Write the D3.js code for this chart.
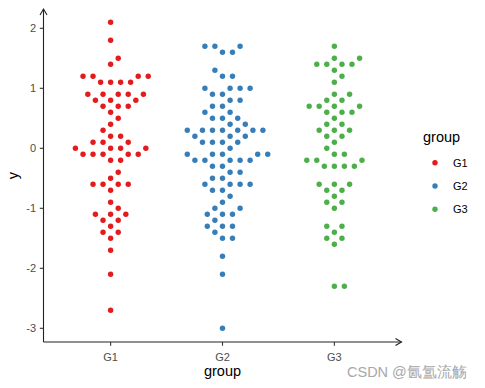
<!DOCTYPE html>
<html>
<head>
<meta charset="UTF-8">
<title>beeswarm</title>
<style>
  body { margin: 0; background: #fff; }
  svg { display: block; }
  text { font-family: "Liberation Sans", Arial, sans-serif; }
</style>
</head>
<body>
<svg width="485" height="388"></svg>
<script src="https://d3js.org/d3.v7.min.js"></script>
<script>
// values per group (rounded to one decimal)
const groups = ["G1", "G2", "G3"];
const g1Values = [2.1, 1.8, 1.5, 1.4, 1.2, 1.2, 1.2, 1.2, 1.1, 1.1, 1.1, 1.1,
  0.9, 0.9, 0.9, 0.9, 0.9, 0.8, 0.8, 0.8, 0.7, 0.7, 0.7, 0.6, 0.5, 0.4, 0.3,
  0.2, 0.2, 0.1, 0.1, 0.1, 0, 0, 0, 0, -0.1, -0.1, -0.1, -0.1, -0.1, -0.2, -0.2,
  -0.4, -0.5, -0.6, -0.6, -0.6, -0.6, -0.7, -0.9, -1.0, -1.1, -1.1, -1.1,
  -1.2, -1.2, -1.3, -1.4, -1.4, -1.5, -1.7, -2.1, -2.7];
const g2Values = [1.7, 1.7, 1.7, 1.6, 1.6, 1.3, 1.2, 1.2, 1.0, 1.0, 1.0, 1.0,
  0.9, 0.9, 0.8, 0.8, 0.7, 0.7, 0.6, 0.6, 0.5, 0.5, 0.5, 0.4, 0.4,
  0.3, 0.3, 0.3, 0.3, 0.3, 0.3, 0.3, 0.2, 0.2, 0.2, 0.1, 0.1, 0.1, 0.1, 0,
  -0.1, -0.1, -0.1, -0.1, -0.1, -0.2, -0.2, -0.2, -0.2, -0.2, -0.3, -0.3,
  -0.4, -0.4, -0.5, -0.5, -0.6, -0.6, -0.6, -0.6, -0.7, -0.7, -0.8, -0.9,
  -1.0, -1.0, -1.1, -1.1, -1.1, -1.2, -1.3, -1.3, -1.3, -1.4, -1.5, -1.5,
  -1.8, -2.1, -3.0];
const g3Values = [1.7, 1.5, 1.5, 1.4, 1.4, 1.4, 1.4, 1.3, 1.2, 1.1, 0.9, 0.9,
  0.8, 0.8, 0.7, 0.7, 0.7, 0.7, 0.6, 0.6, 0.6, 0.5, 0.4, 0.4, 0.3, 0.3, 0.3,
  0.2, 0.2, 0.1, 0, -0.1, -0.1, -0.2, -0.2, -0.2, -0.3, -0.3, -0.3, -0.3,
  -0.6, -0.6, -0.6, -0.7, -0.7, -0.8, -0.9, -0.9, -1.0, -1.3, -1.3, -1.4,
  -1.5, -1.5, -1.6, -2.3, -2.3];
const yTicks = [-3, -2, -1, 0, 1, 2];
const colors = ["#E41A1C", "#377EB8", "#4DAF4A"];

const svg = d3.select("svg");
const axisLeft = 43.5, axisRight = 401.5, axisBottom = 342, axisTop = 9;

const x = d3.scalePoint().domain(groups).range([axisLeft, axisRight]).padding(0.6);
const y = d3.scaleLinear().domain([-3, 2]).range([328.3, 28.3]);
const color = d3.scaleOrdinal().domain(groups).range(colors);

// swarm layout: ascending order, each point as near the centre as possible
const D = 10, K = 1.083;
function swarm(vals) {
  const pts = vals.map(v => ({ v, py: y(v) })).sort((a, b) => a.v - b.v);
  const placed = [];
  pts.forEach(p => {
    const near = placed.filter(q => Math.abs(q.py - p.py) * K < D);
    const cands = [0];
    near.forEach(q => {
      const dy = (q.py - p.py) * K;
      const dx = Math.sqrt(D * D - dy * dy);
      cands.push(q.dx + dx, q.dx - dx);
    });
    const ok = cands.filter(c => near.every(q => {
      const dy = (q.py - p.py) * K;
      return (c - q.dx) ** 2 + dy * dy >= D * D - 1e-6;
    }));
    ok.sort((a, b) => (Math.abs(Math.abs(a) - Math.abs(b)) < 1e-6 ? b - a : Math.abs(a) - Math.abs(b)));
    p.dx = ok[0];
    placed.push(p);
  });
  return pts;
}

const allVals = [g1Values, g2Values, g3Values];
const points = [];
groups.forEach((g, i) => {
  swarm(allVals[i]).forEach(p => points.push({ group: g, v: p.v, dx: p.dx }));
});

// axes
const axisG = svg.append("g").attr("stroke", "#222").attr("stroke-width", 1.1).attr("fill", "none");
axisG.append("path").attr("d", `M${axisLeft},${axisBottom}V${axisTop}`);
axisG.append("path").attr("d", `M${axisLeft - 3.5},${axisTop + 6}L${axisLeft},${axisTop}L${axisLeft + 3.5},${axisTop + 6}`);
axisG.append("path").attr("d", `M${axisLeft},${axisBottom}H${axisRight}`);
axisG.append("path").attr("d", `M${axisRight - 6},${axisBottom - 3.5}L${axisRight},${axisBottom}L${axisRight - 6},${axisBottom + 3.5}`);

svg.append("g").selectAll("line").data(yTicks).join("line")
  .attr("x1", axisLeft - 3.7).attr("x2", axisLeft)
  .attr("y1", d => y(d)).attr("y2", d => y(d))
  .attr("stroke", "#333").attr("stroke-width", 1.1);
svg.append("g").selectAll("text").data(yTicks).join("text")
  .attr("x", 36).attr("y", d => y(d)).attr("dy", "0.36em")
  .attr("text-anchor", "end").attr("font-size", 11).attr("fill", "#4D4D4D")
  .text(d => d);

svg.append("g").selectAll("line").data(groups).join("line")
  .attr("x1", d => x(d)).attr("x2", d => x(d))
  .attr("y1", axisBottom).attr("y2", axisBottom + 3.7)
  .attr("stroke", "#333").attr("stroke-width", 1.1);
svg.append("g").selectAll("text").data(groups).join("text")
  .attr("x", d => x(d)).attr("y", 360.5)
  .attr("text-anchor", "middle").attr("font-size", 11).attr("fill", "#4D4D4D")
  .text(d => d);

svg.append("text").attr("x", (axisLeft + axisRight) / 2).attr("y", 376)
  .attr("text-anchor", "middle").attr("font-size", 14.5).attr("fill", "#000").text("group");
svg.append("text").attr("transform", `translate(18,${(axisTop + axisBottom) / 2}) rotate(-90)`)
  .attr("text-anchor", "middle").attr("font-size", 14.5).attr("fill", "#000").text("y");

// points
svg.append("g").selectAll("circle").data(points).join("circle")
  .attr("cx", d => x(d.group) + d.dx)
  .attr("cy", d => y(d.v))
  .attr("r", 2.7)
  .attr("fill", d => color(d.group));

// legend
const legend = svg.append("g");
legend.append("text").attr("x", 423).attr("y", 142).attr("font-size", 14.5).text("group");
const items = legend.selectAll("g.item").data(groups).join("g")
  .attr("transform", (d, i) => `translate(0,${162.7 + i * 23.3})`);
items.append("circle").attr("cx", 435).attr("cy", 0).attr("r", 2.7).attr("fill", d => color(d));
items.append("text").attr("x", 453).attr("y", 0).attr("dy", "0.36em")
  .attr("font-size", 11).attr("fill", "#000").text(d => d);

// watermark
svg.append("text").attr("x", 347).attr("y", 376.5)
  .attr("font-family", "'Noto Sans CJK SC', sans-serif")
  .attr("font-size", 14.5).attr("fill", "#a8a8a8").text("CSDN @氤氲流觞");
</script>
</body>
</html>
